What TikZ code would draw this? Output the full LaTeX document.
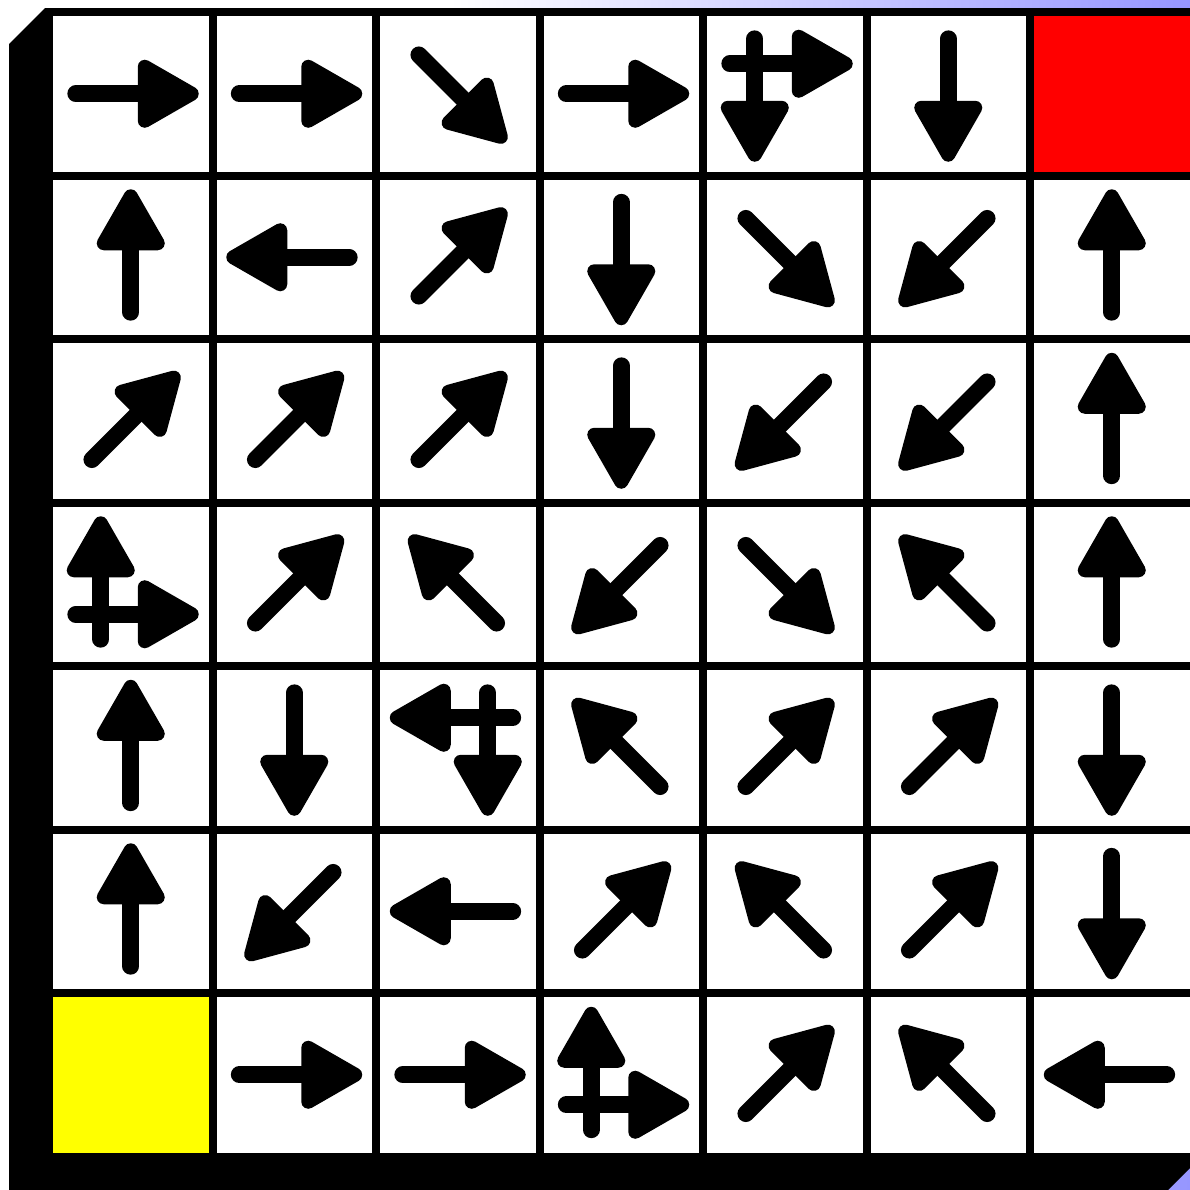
\documentclass[tikz,border=0pt]{standalone}
\definecolor{bgblue}{RGB}{150,150,255}
\definecolor{cellred}{RGB}{255,0,0}
\definecolor{cellyellow}{RGB}{255,255,0}
\tikzset{
  shaft/.style={draw=black,line width=8.4pt,line cap=round},
  arrhead/.style={fill=black,draw=black,line width=7pt,line join=round},
  cellbox/.style={fill=white},
}
\newcommand\myarr[5]{%
  \begin{scope}[shift={({53+163.5*#1+77.75+(#4)},{16+163.5*#2+77.75+(#5)})},rotate=#3]
    \draw[shaft] (-55,0) -- (14,0);
    \filldraw[arrhead] (14,-27) -- (14,27) -- (61,0) -- cycle;
  \end{scope}}
\begin{document}
\begin{tikzpicture}[x=0.5pt,y=-0.5pt]
\useasboundingbox (0,0) rectangle (1190,1190);
\fill[white] (0,0) rectangle (1190,1190);
\shade[left color=white,right color=bgblue] (450,0) rectangle (1190,1190);
% extruded board (black body)
\fill[black] (45,8) -- (1197.5,8) -- (1197.5,1160.5) -- (1161.5,1196.5) -- (9,1196.5) -- (9,44) -- cycle;
% cells
\foreach \c in {0,...,6}{
  \foreach \r in {0,...,6}{
    \fill[cellbox] ({53+163.5*\c},{16+163.5*\r}) rectangle ++(155.5,155.5);
  }
}
\fill[cellred] ({53+163.5*6},{16}) rectangle ++(155.5,155.5);
\fill[cellyellow] ({53},{16+163.5*6}) rectangle ++(155.5,155.5);
% row 0
\myarr{0}{0}{0}{0}{0}
\myarr{1}{0}{0}{0}{0}
\myarr{2}{0}{315}{0}{0}
\myarr{3}{0}{0}{0}{0}
\myarr{4}{0}{0}{0}{-30}
\myarr{4}{0}{270}{-30}{0}
\myarr{5}{0}{270}{0}{0}
% row 1
\myarr{0}{1}{90}{0}{0}
\myarr{1}{1}{180}{0}{0}
\myarr{2}{1}{45}{0}{0}
\myarr{3}{1}{270}{0}{0}
\myarr{4}{1}{315}{0}{0}
\myarr{5}{1}{225}{0}{0}
\myarr{6}{1}{90}{0}{0}
% row 2
\myarr{0}{2}{45}{0}{0}
\myarr{1}{2}{45}{0}{0}
\myarr{2}{2}{45}{0}{0}
\myarr{3}{2}{270}{0}{0}
\myarr{4}{2}{225}{0}{0}
\myarr{5}{2}{225}{0}{0}
\myarr{6}{2}{90}{0}{0}
% row 3
\myarr{0}{3}{90}{-30}{0}
\myarr{0}{3}{0}{0}{30}
\myarr{1}{3}{45}{0}{0}
\myarr{2}{3}{135}{0}{0}
\myarr{3}{3}{225}{0}{0}
\myarr{4}{3}{315}{0}{0}
\myarr{5}{3}{135}{0}{0}
\myarr{6}{3}{90}{0}{0}
% row 4
\myarr{0}{4}{90}{0}{0}
\myarr{1}{4}{270}{0}{0}
\myarr{2}{4}{180}{0}{-30}
\myarr{2}{4}{270}{30}{0}
\myarr{3}{4}{135}{0}{0}
\myarr{4}{4}{45}{0}{0}
\myarr{5}{4}{45}{0}{0}
\myarr{6}{4}{270}{0}{0}
% row 5
\myarr{0}{5}{90}{0}{0}
\myarr{1}{5}{225}{0}{0}
\myarr{2}{5}{180}{0}{0}
\myarr{3}{5}{45}{0}{0}
\myarr{4}{5}{135}{0}{0}
\myarr{5}{5}{45}{0}{0}
\myarr{6}{5}{270}{0}{0}
% row 6
\myarr{1}{6}{0}{0}{0}
\myarr{2}{6}{0}{0}{0}
\myarr{3}{6}{90}{-30}{0}
\myarr{3}{6}{0}{0}{30}
\myarr{4}{6}{45}{0}{0}
\myarr{5}{6}{135}{0}{0}
\myarr{6}{6}{180}{0}{0}
\end{tikzpicture}
\end{document}
